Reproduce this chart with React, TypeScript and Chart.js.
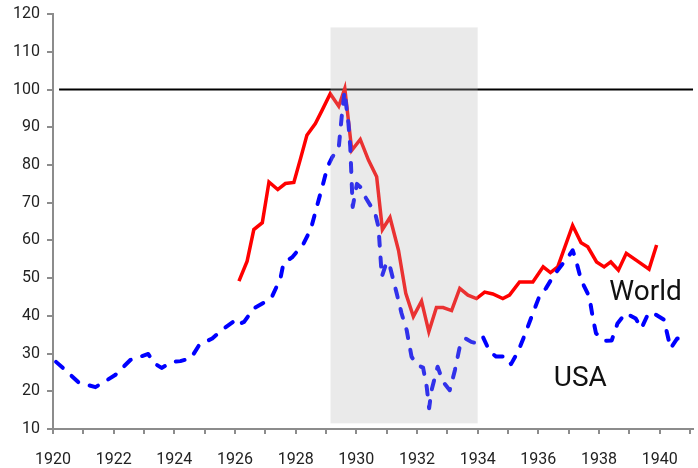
import React, { useEffect, useRef } from "react";
import { Chart, registerables } from "chart.js";

Chart.register(...registerables);

// USA industrial production (1929 peak = 100), dashed blue
const usaYears = [
  1920.1, 1920.38, 1920.85, 1921.4, 1922.05, 1922.55, 1923.14, 1923.34, 1923.58, 1923.94,
  1924.2, 1924.55, 1924.82, 1925.25, 1925.56, 1926.02, 1926.13, 1926.3, 1926.62, 1927.0,
  1927.22, 1927.5, 1927.6, 1927.88, 1928.25, 1928.5, 1928.7, 1928.92, 1929.05, 1929.2,
  1929.42, 1929.52, 1929.61, 1929.74, 1929.8, 1929.88, 1930.02, 1930.13, 1930.29, 1930.62,
  1930.73, 1930.84, 1931.0, 1931.11, 1931.33, 1931.49, 1931.66, 1931.82, 1931.99, 1932.2,
  1932.32, 1932.4, 1932.48, 1932.68, 1932.86, 1933.08, 1933.25, 1933.41, 1933.6, 1933.79,
  1933.99, 1934.18, 1934.4, 1934.61, 1934.94, 1935.1, 1935.33, 1935.55, 1935.82, 1936.05,
  1936.25, 1936.53, 1936.97, 1937.13, 1937.24, 1937.41, 1937.68, 1937.79, 1937.9, 1938.17,
  1938.42, 1938.61, 1938.88, 1939.21, 1939.4, 1939.6, 1939.73, 1940.14, 1940.36, 1940.58,
  1940.91,
];
const usaValues = [
  27.8, 25.8, 22.3, 21.1, 24.3, 28.3, 29.9, 27.4, 26.2, 27.8,
  28.0, 28.8, 32.3, 34.0, 36.2, 38.9, 37.8, 38.4, 42.0, 43.7,
  45.1, 50.0, 54.0, 55.5, 59.0, 63.0, 69.0, 75.5, 79.5, 82.0,
  84.6, 93.0, 99.5, 91.0, 84.8, 68.9, 75.0, 74.2, 71.6, 67.2,
  63.6, 50.4, 54.3, 53.0, 46.0, 40.7, 36.2, 29.2, 27.0, 26.3,
  21.2, 15.5, 20.3, 26.5, 22.5, 20.3, 25.6, 31.8, 34.0, 33.1,
  32.7, 34.3, 30.5, 29.2, 29.2, 27.2, 30.5, 34.9, 40.7, 45.5,
  47.3, 51.0, 55.5, 57.4, 54.8, 49.5, 45.1, 39.8, 35.4, 33.4,
  33.5, 38.0, 40.7, 39.3, 36.7, 40.2, 41.0, 39.0, 31.4, 34.0,
  33.8,
];

// World industrial production, solid red
const worldYears = [
  1926.13, 1926.4, 1926.62, 1926.9, 1927.12, 1927.41, 1927.66, 1927.94, 1928.16, 1928.37,
  1928.65, 1928.87, 1929.14, 1929.42, 1929.62, 1929.85, 1930.13, 1930.4, 1930.67, 1930.86,
  1931.11, 1931.39, 1931.63, 1931.88, 1932.15, 1932.39, 1932.64, 1932.86, 1933.14, 1933.41,
  1933.68, 1933.96, 1934.23, 1934.5, 1934.83, 1935.05, 1935.38, 1935.82, 1936.16, 1936.4,
  1936.64, 1937.13, 1937.41, 1937.63, 1937.92, 1938.17, 1938.39, 1938.64, 1938.9, 1939.27,
  1939.65, 1939.9,
];
const worldValues = [
  49.2, 54.5, 62.9, 64.7, 75.5, 73.5, 75.1, 75.4, 81.7, 87.9,
  91.0, 94.5, 98.9, 95.6, 100.3, 83.9, 86.8, 81.3, 76.9, 62.9,
  66.1, 57.4, 46.0, 39.8, 43.9, 35.8, 42.2, 42.2, 41.4, 47.3,
  45.5, 44.6, 46.3, 45.8, 44.6, 45.5, 49.0, 49.0, 53.0, 51.5,
  53.0, 64.0, 59.4, 58.3, 54.3, 53.0, 54.3, 52.1, 56.6, 54.5,
  52.4, 58.8,
];

// Reference line at 100
const refYears = [1920.2, 1941.1];
const refValues = [100, 100];

// Shaded Depression band
const shadeYears = [1929.15, 1934.0];
const shadeValues = [11.5, 116.5];

// Series labels
const seriesNames = ["World", "USA"];
const labelYears = [1938.34, 1936.51];
const labelValues = [44.2, 21.4];

// Axes
const xMin = 1920;
const xMax = 1941.1;
const yMin = 10;
const yMax = 120;
const yStep = 10;

const FONT = "Roboto";

const overlayPlugin = {
  id: "overlay",
  afterDatasetsDraw(chart: any) {
    const { ctx, scales } = chart;
    const x = scales.x;
    const y = scales.y;
    ctx.save();
    const l = x.getPixelForValue(shadeYears[0]);
    const r = x.getPixelForValue(shadeYears[1]);
    const b = y.getPixelForValue(shadeValues[0]);
    const t = y.getPixelForValue(shadeValues[1]);
    ctx.fillStyle = "rgba(180,180,180,0.28)";
    ctx.fillRect(l, t, r - l, b - t);
    ctx.fillStyle = "#111";
    ctx.font = `28px ${FONT}`;
    ctx.textAlign = "left";
    ctx.textBaseline = "alphabetic";
    seriesNames.forEach((n, i) => {
      ctx.fillText(n, x.getPixelForValue(labelYears[i]), y.getPixelForValue(labelValues[i]));
    });
    ctx.restore();
  },
};

export default function App() {
  const ref = useRef<HTMLCanvasElement | null>(null);
  useEffect(() => {
    if (!ref.current) return;
    const toPts = (xs: number[], ys: number[]) => xs.map((v, i) => ({ x: v, y: ys[i] }));
    const chart = new Chart(ref.current, {
      type: "line",
      data: {
        datasets: [
          {
            label: "USA",
            data: toPts(usaYears, usaValues),
            borderColor: "#0000ff",
            borderWidth: 4,
            borderDash: [9, 12],
            borderCapStyle: "round",
            borderJoinStyle: "round",
            pointRadius: 0,
            tension: 0,
            fill: false,
          },
          {
            label: "World",
            data: toPts(worldYears, worldValues),
            borderColor: "#ff0000",
            borderWidth: 3.5,
            borderJoinStyle: "miter",
            pointRadius: 0,
            tension: 0,
            fill: false,
          },
          {
            label: "ref",
            data: toPts(refYears, refValues),
            borderColor: "#000000",
            borderWidth: 2,
            pointRadius: 0,
            fill: false,
            clip: false as any,
          },
        ],
      },
      options: {
        animation: false,
        responsive: false,
        devicePixelRatio: 1,
        layout: { padding: { top: 0, right: 2, left: 0, bottom: 0 } },
        plugins: { legend: { display: false }, tooltip: { enabled: false } },
        scales: {
          x: {
            type: "linear",
            min: xMin,
            max: xMax,
            afterFit(scale: any) {
              scale.height = 39;
            },
            border: { color: "#8c8c8c", width: 2 },
            grid: { drawOnChartArea: false, drawTicks: true, tickLength: 5, color: "#8c8c8c", lineWidth: 2 },
            ticks: {
              stepSize: 1,
              includeBounds: false,
              autoSkip: false,
              maxRotation: 0,
              padding: 8,
              color: "#222",
              font: { family: FONT, size: 16, lineHeight: 2.2 },
              callback: (v: any) => (Number.isInteger(v) && v % 2 === 0 ? String(v) : ""),
            },
          },
          y: {
            min: yMin,
            max: yMax,
            afterFit(scale: any) {
              scale.width = 53;
            },
            border: { color: "#8c8c8c", width: 2 },
            grid: { drawOnChartArea: false, drawTicks: true, tickLength: 6, color: "#8c8c8c", lineWidth: 2 },
            ticks: {
              stepSize: yStep,
              padding: 7,
              color: "#222",
              font: { family: FONT, size: 16, lineHeight: 0.9 },
            },
          },
        },
      },
      plugins: [overlayPlugin],
    } as any);
    return () => chart.destroy();
  }, []);
  return (
    <div style={{ position: "fixed", left: 0, top: 0, width: 698, height: 468 }}>
      <canvas ref={ref} width={698} height={468} style={{ width: 698, height: 468 }} />
    </div>
  );
}
